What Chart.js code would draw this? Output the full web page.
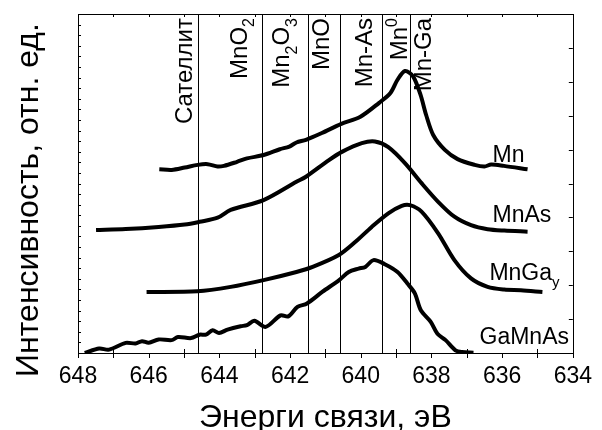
<!DOCTYPE html>
<html>
<head>
<meta charset="utf-8">
<script src="https://cdn.jsdelivr.net/npm/chart.js@4"></script>
<style>
  body { margin: 0; background: #fff; }
  #wrap { width: 602px; height: 430px; }
</style>
</head>
<body>
<div id="wrap"><canvas id="xps-chart" width="602" height="430"></canvas></div>
<script>
const FONT = '"Liberation Sans", Arial, sans-serif';

// binding energy (eV) and intensity (arb. units, offset per curve)
const mnE = [645.70, 645.35, 644.98, 644.61, 644.33, 644.05, 643.87, 643.50, 643.22, 642.75, 642.29, 642.02, 641.82, 641.55, 641.10, 640.55, 640.01, 639.48, 639.16, 638.96, 638.75, 638.52, 638.31, 638.15, 637.95, 637.62, 637.26, 636.78, 636.50, 636.31, 635.95, 635.28];
const mnI = [5.42, 5.40, 5.47, 5.55, 5.57, 5.50, 5.52, 5.64, 5.74, 5.84, 6.01, 6.09, 6.21, 6.29, 6.49, 6.76, 6.97, 7.38, 7.67, 8.06, 8.32, 8.16, 7.62, 7.02, 6.43, 5.99, 5.72, 5.55, 5.50, 5.56, 5.52, 5.42];

const mnAsE = [647.49, 646.65, 645.72, 644.98, 644.56, 644.05, 643.68, 642.75, 641.82, 641.55, 640.90, 640.52, 639.97, 639.60, 639.22, 638.75, 638.28, 637.81, 637.35, 636.88, 636.41, 635.94, 635.28];
const mnAsI = [3.63, 3.66, 3.72, 3.79, 3.87, 3.99, 4.22, 4.51, 5.05, 5.20, 5.69, 5.94, 6.19, 6.24, 6.07, 5.60, 5.01, 4.46, 4.02, 3.77, 3.65, 3.61, 3.58];

const mnGaE = [646.06, 644.62, 643.68, 642.75, 641.82, 641.36, 640.62, 640.15, 639.69, 639.22, 638.84, 638.61, 638.28, 637.81, 637.35, 636.88, 636.41, 635.94, 635.47, 634.86];
const mnGaI = [1.80, 1.82, 1.95, 2.15, 2.39, 2.54, 2.89, 3.28, 3.72, 4.12, 4.34, 4.36, 4.17, 3.53, 2.74, 2.20, 1.95, 1.87, 1.85, 1.80];

const gaMnAsE = [647.81, 647.40, 647.12, 646.65, 646.37, 646.19, 646.00, 645.72, 645.35, 645.17, 644.80, 644.56, 644.38, 644.19, 644.01, 643.77, 643.40, 643.22, 643.01, 642.69, 642.27, 642.05, 641.79, 641.52, 641.09, 640.61, 640.34, 640.06, 639.87, 639.64, 639.32, 638.96, 638.68, 638.47, 638.30, 638.02, 637.83, 637.60, 637.32, 637.14, 636.81];
const gaMnAsI = [0.00, 0.13, 0.10, 0.30, 0.28, 0.35, 0.30, 0.40, 0.38, 0.47, 0.44, 0.54, 0.54, 0.67, 0.59, 0.69, 0.79, 0.82, 0.95, 0.77, 1.11, 1.08, 1.36, 1.46, 1.80, 2.15, 2.39, 2.49, 2.54, 2.74, 2.62, 2.39, 2.05, 1.76, 1.26, 0.92, 0.57, 0.38, 0.08, 0.03, 0.01];

// reference binding energies (vertical lines) and their names
const refE = [644.6, 642.8, 641.5, 640.6, 639.4, 638.6];
const refNames = [
  [['Сателлит']],
  [['MnO'], ['2', 'sub']],
  [['Mn'], ['2', 'sub'], ['O'], ['3', 'sub']],
  [['MnO']],
  [['Mn-As']],
  [['Mn'], ['0', 'sup']],
  [['Mn-Ga']]
];
// where each name sits (baseline, in eV)
const refNameE = [644.78, 643.22, 642.02, 640.91, 639.68, 638.68, 638.01];

const seriesNames = [
  [['Mn']],
  [['MnAs']],
  [['MnGa'], ['y', 'sub']],
  [['GaMnAs']]
];
const seriesNameAt = [[636.27, 5.64], [636.27, 3.87], [636.36, 2.15], [636.64, 0.28]];

const xTitle = 'Энерги связи, эВ';
const yTitle = 'Интенсивность, отн. ед.';

function pts(e, v) { return e.map((x, i) => ({ x: x, y: v[i] })); }

function richWidth(ctx, parts, size) {
  let w = 0;
  parts.forEach(p => {
    ctx.font = (p[1] ? Math.round(size * 0.65) : size) + 'px ' + FONT;
    w += ctx.measureText(p[0]).width;
  });
  return w;
}
function drawRich(ctx, parts, x, y, size) {
  parts.forEach(p => {
    const small = !!p[1];
    ctx.font = (small ? Math.round(size * 0.65) : size) + 'px ' + FONT;
    let dy = 0;
    if (p[1] === 'sub') dy = size * 0.3;
    if (p[1] === 'sup') dy = -size * 0.42;
    ctx.fillText(p[0], x, y + dy);
    x += ctx.measureText(p[0]).width;
  });
}

const overlay = {
  id: 'overlay',
  beforeDatasetsDraw(chart) {
    const { ctx, chartArea: a, scales: { x, y } } = chart;
    ctx.save();
    ctx.strokeStyle = '#000';
    ctx.lineWidth = 1;
    // reference lines
    refE.forEach(e => {
      const px = Math.round(x.getPixelForValue(e)) + 0.5;
      ctx.beginPath();
      ctx.moveTo(px, a.top);
      ctx.lineTo(px, a.bottom);
      ctx.stroke();
    });
    // frame
    ctx.strokeRect(Math.round(a.left) + 0.5, Math.round(a.top) + 0.5, Math.round(a.right - a.left), Math.round(a.bottom - a.top));
    // ticks
    ctx.beginPath();
    for (let v = 634; v <= 648; v++) {
      const px = Math.round(x.getPixelForValue(v)) + 0.5;
      ctx.moveTo(px, a.bottom); ctx.lineTo(px, a.bottom + 5);
      if (v % 2 !== 0) {
        ctx.moveTo(px, a.bottom); ctx.lineTo(px, a.bottom - 4);
      }
      ctx.moveTo(px, a.top); ctx.lineTo(px, a.top + 3);
    }
    for (let v = 1; v < 10; v++) {
      const py = Math.round(y.getPixelForValue(v)) + 0.5;
      ctx.moveTo(a.right, py); ctx.lineTo(a.right - 4, py);
    }
    for (let v = 10; v > 0; v -= 0.3125) {
      const py = Math.round(y.getPixelForValue(v)) + 0.5;
      ctx.moveTo(a.left, py); ctx.lineTo(a.left + 3, py);
    }
    ctx.stroke();
    // reference names, vertical text ending near the top
    ctx.fillStyle = '#000';
    ctx.textBaseline = 'alphabetic';
    ctx.textAlign = 'left';
    refNames.forEach((parts, i) => {
      const size = 24;
      const w = richWidth(ctx, parts, size);
      ctx.save();
      ctx.translate(x.getPixelForValue(refNameE[i]), a.top + 4);
      ctx.rotate(-Math.PI / 2);
      drawRich(ctx, parts, -w, 0, size);
      ctx.restore();
    });
    ctx.restore();
  },
  afterDatasetsDraw(chart) {
    const { ctx, chartArea: a, scales: { x, y } } = chart;
    ctx.save();
    ctx.fillStyle = '#000';
    ctx.textBaseline = 'alphabetic';
    ctx.textAlign = 'left';
    seriesNames.forEach((parts, i) => {
      drawRich(ctx, parts, x.getPixelForValue(seriesNameAt[i][0]), y.getPixelForValue(seriesNameAt[i][1]), 23);
    });
    // axis titles
    ctx.textAlign = 'center';
    ctx.font = '32px ' + FONT;
    ctx.fillText(xTitle, (a.left + a.right) / 2, 427);
    ctx.save();
    ctx.translate(38, 200);
    ctx.rotate(-Math.PI / 2);
    ctx.fillText(yTitle, 0, 0);
    ctx.restore();
    ctx.restore();
  }
};

const lineStyle = { borderColor: '#000', borderWidth: 4, pointRadius: 0, tension: 0.3, fill: false };

new Chart(document.getElementById('xps-chart'), {
  type: 'line',
  data: {
    datasets: [
      Object.assign({ label: 'Mn', data: pts(mnE, mnI) }, lineStyle),
      Object.assign({ label: 'MnAs', data: pts(mnAsE, mnAsI) }, lineStyle),
      Object.assign({ label: 'MnGa', data: pts(mnGaE, mnGaI) }, lineStyle),
      Object.assign({ label: 'GaMnAs', data: pts(gaMnAsE, gaMnAsI) }, lineStyle)
    ]
  },
  options: {
    responsive: false,
    animation: false,
    layout: { padding: { top: 14, right: 21, left: 0, bottom: 0 } },
    plugins: { legend: { display: false }, tooltip: { enabled: false } },
    scales: {
      x: {
        type: 'linear',
        reverse: true,
        min: 634,
        max: 648,
        grid: { display: false, drawTicks: false },
        border: { display: false },
        ticks: { stepSize: 2, color: '#000', padding: 10, maxRotation: 0, autoSkip: false, font: { size: 23, family: FONT } },
        afterFit(s) { s.height = 77; }
      },
      y: {
        min: 0,
        max: 10,
        grid: { display: false, drawTicks: false },
        border: { display: false },
        ticks: { display: false },
        afterFit(s) { s.width = 78; }
      }
    }
  },
  plugins: [overlay]
});
</script>
</body>
</html>
